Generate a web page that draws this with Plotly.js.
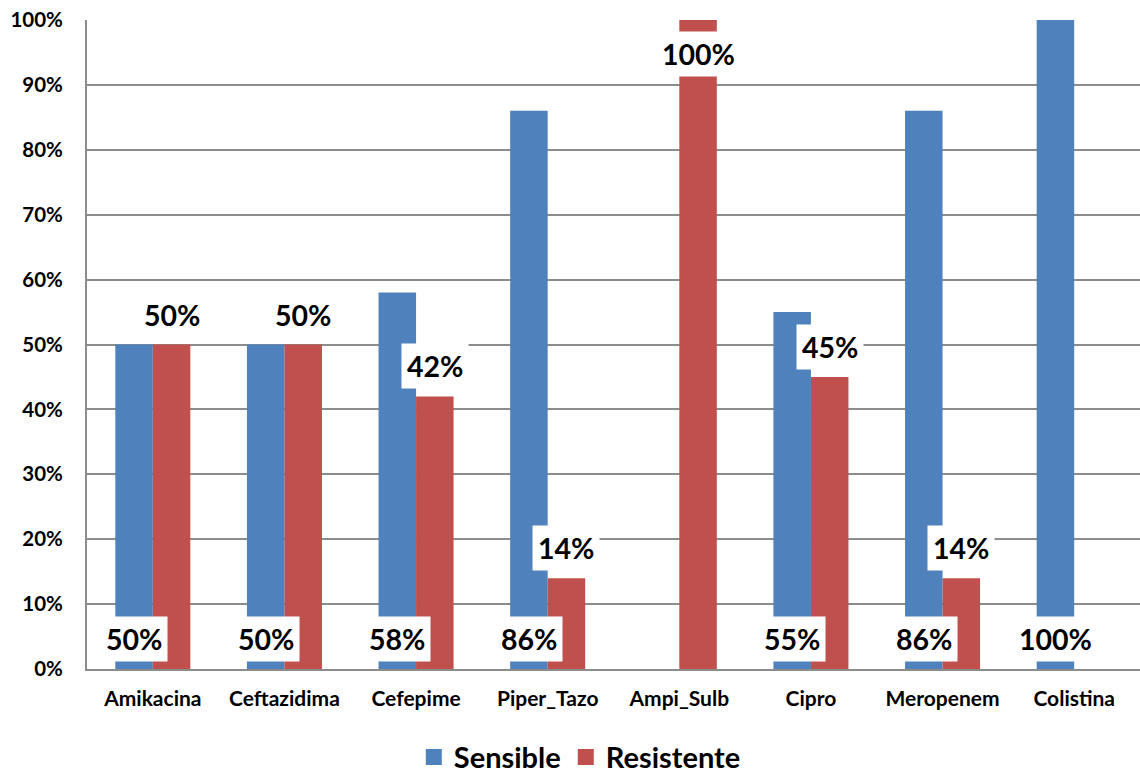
<!DOCTYPE html>
<html>
<head>
<meta charset="utf-8">
<script src="https://cdn.plot.ly/plotly-3.0.1.min.js"></script>
<style>
  html, body { margin: 0; padding: 0; background: #ffffff; }
  #chart { width: 1140px; height: 773px; }
</style>
</head>
<body>
<div id="chart"></div>
<script>
// Antibiotic susceptibility (% of isolates)
const categories = ["Amikacina", "Ceftazidima", "Cefepime", "Piper_Tazo", "Ampi_Sulb", "Cipro", "Meropenem", "Colistina"];
const sensible   = [50, 50, 58, 86, 0, 55, 86, 100];
const resistente = [50, 50, 42, 14, 100, 45, 14, 0];
const seriesNames = ["Sensible", "Resistente"];

const FONT = "Lato, 'Open Sans', sans-serif";
const BLUE = "#4F81BD";
const RED  = "#C0504D";
const GRID = "#8C8C8C";

const traces = [
  {
    type: "bar", name: seriesNames[0], x: categories, y: sensible,
    marker: { color: BLUE }, showlegend: false, hoverinfo: "skip"
  },
  {
    type: "bar", name: seriesNames[1], x: categories, y: resistente,
    marker: { color: RED }, showlegend: false, hoverinfo: "skip"
  },
  // legend entries with larger square keys
  {
    type: "scatter", mode: "markers", name: seriesNames[0],
    x: [categories[0]], y: [null],
    marker: { symbol: "square", size: 18, color: BLUE }, hoverinfo: "skip"
  },
  {
    type: "scatter", mode: "markers", name: seriesNames[1],
    x: [categories[0]], y: [null],
    marker: { symbol: "square", size: 18, color: RED }, hoverinfo: "skip"
  }
];

// Value labels in white boxes: Sensible at the base of its bar,
// Resistente just above the end of its bar (inside when at the top).
const HALF = 18.8;
const labelFont = { family: FONT, size: 28.5, color: "#000000", weight: 700 };
const annotations = [];
categories.forEach((c, i) => {
  if (sensible[i] > 0) {
    annotations.push({
      x: c, y: 0, xref: "x", yref: "y", xshift: -HALF, yshift: 7,
      yanchor: "bottom", xanchor: "center",
      text: sensible[i] + "%", showarrow: false,
      bgcolor: "#ffffff", borderpad: 5, font: labelFont
    });
  }
  if (resistente[i] > 0) {
    const atTop = resistente[i] >= 100;
    annotations.push({
      x: c, y: resistente[i], xref: "x", yref: "y", xshift: HALF,
      yshift: atTop ? -11 : 7,
      yanchor: atTop ? "top" : "bottom", xanchor: "center",
      text: resistente[i] + "%", showarrow: false,
      bgcolor: "#ffffff", borderpad: 5, font: labelFont
    });
  }
});

const layout = {
  width: 1140, height: 773,
  margin: { l: 87, r: 0, t: 20, b: 104, autoexpand: false },
  paper_bgcolor: "#ffffff", plot_bgcolor: "#ffffff",
  barmode: "group", bargap: 0.43, bargroupgap: 0,
  showlegend: true,
  legend: {
    orientation: "h", x: 0.468, xanchor: "center", y: -0.136, yanchor: "middle",
    font: { family: FONT, size: 29, color: "#000000", weight: 700 },
    traceorder: "normal", tracegroupgap: 0, itemsizing: "trace"
  },
  xaxis: {
    type: "category", showgrid: false, zeroline: false,
    showline: true, linecolor: GRID, linewidth: 2,
    ticks: "", tickfont: { family: FONT, size: 21, color: "#000000", weight: 700 },
    ticklabelstandoff: 10
  },
  yaxis: {
    range: [0, 100], dtick: 10, ticksuffix: "%",
    showgrid: true, gridcolor: GRID, gridwidth: 2,
    zeroline: false, showline: true, linecolor: GRID, linewidth: 2,
    ticks: "", tickfont: { family: FONT, size: 20.5, color: "#000000", weight: 700 },
    ticklabelstandoff: 18
  },
  annotations: annotations
};

Plotly.newPlot("chart", traces, layout, { staticPlot: true, displayModeBar: false });
</script>
</body>
</html>
